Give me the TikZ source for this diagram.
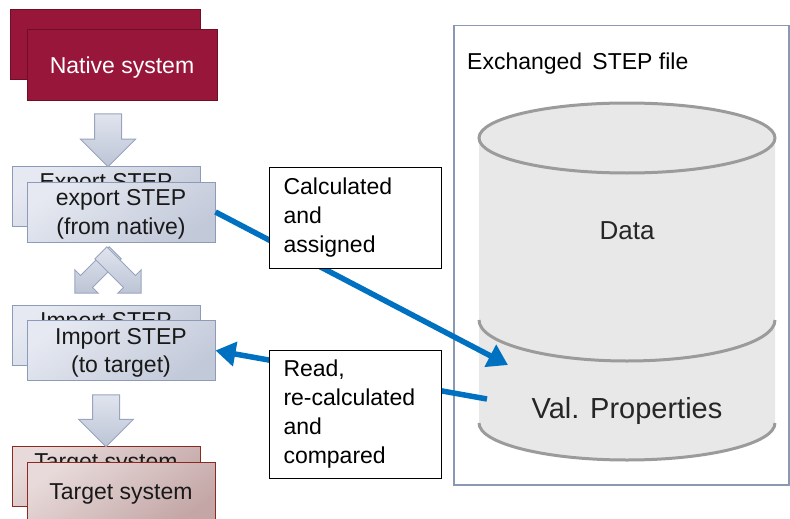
\documentclass[tikz,border=0pt]{standalone}
\usepackage{fontspec}
\setmainfont{Liberation Sans}
\usetikzlibrary{arrows.meta,shapes.arrows}

\definecolor{nativered}{HTML}{98163A}
\definecolor{nativeborder}{HTML}{6E0F26}
\definecolor{stepA}{HTML}{E6E9F1}
\definecolor{stepB}{HTML}{C2C9D9}
\definecolor{stepborder}{HTML}{8C9BB8}
\definecolor{targetA}{HTML}{E8DADA}
\definecolor{targetB}{HTML}{C4A6A6}
\definecolor{targetborder}{HTML}{8B2A20}
\definecolor{arrowA}{HTML}{E0E4EE}
\definecolor{arrowB}{HTML}{BCC4D5}
\definecolor{arrowborder}{HTML}{99A5BE}
\definecolor{panelborder}{HTML}{8A98B4}
\definecolor{cylfill}{HTML}{E8E8E8}
\definecolor{cylline}{HTML}{9B9B9B}
\definecolor{linkblue}{HTML}{0070C0}

\tikzset{%
  every box/.style={
    rectangle,
    draw,
    line width=1pt,
    minimum width=188pt,
    minimum height=60pt,
    align=center,
    text depth=0pt,
    text=black!90,
    font=\fontsize{23}{28.5}\selectfont
  },
  box native/.style={
    fill=nativered,
    draw=nativeborder,
    text=white,
    minimum width=190pt,
    minimum height=70pt
  },
  box step/.style={
    top color=stepA,
    bottom color=stepB,
    shading angle=35,
    draw=stepborder
  },
  box target/.style={
    top color=targetA,
    bottom color=targetB,
    shading angle=35,
    draw=targetborder
  },
  flow arrow/.style={
    single arrow,
    draw=arrowborder,
    line width=1pt,
    top color=arrowA,
    bottom color=arrowB,
    inner xsep=0pt,
    inner ysep=13pt,
    single arrow head extend=14pt,
    single arrow tip angle=90
  },
  cross arrow/.style={
    flow arrow,
    inner ysep=8pt,
    single arrow head extend=8pt,
    minimum height=57pt
  },
  note/.style={
    draw=black,
    fill=white,
    line width=1pt,
    anchor=north west,
    align=left,
    text width=144pt,
    inner xsep=14pt,
    font=\fontsize{23}{29}\selectfont
  },
  link/.style={
    draw=linkblue,
    line width=5.5pt,
    -{Triangle[length=20pt,width=24pt]}
  },
  cyl line/.style={draw=cylline, line width=3pt}
}

\begin{document}
\begin{tikzpicture}[x=1pt, y=-1pt]
    \useasboundingbox (0,0) rectangle (790,519);

    % file panel
    \node [draw=panelborder, line width=1.5pt, minimum width=335pt, minimum height=459pt,
      anchor=north west, inner sep=0pt] (panel) at (453,25) {};
    \node [anchor=base west, inner sep=0pt, font=\fontsize{23}{28}\selectfont] (filelabel)
      at (467,70) {Exchanged\, STEP file};

    % cylinder
    \fill [cylfill] (479,138) -- (479,423) arc [start angle=180, end angle=360,
      x radius=148pt, y radius=37pt] -- (775,138) -- cycle;
    \draw [cyl line, fill=cylfill] (627,138) ellipse [x radius=148pt, y radius=35pt];
    \draw [cyl line] (479,320) arc [start angle=180, end angle=360, x radius=148pt, y radius=41pt];
    \draw [cyl line] (479,423) arc [start angle=180, end angle=360, x radius=148pt, y radius=37pt];
    \node [anchor=base, font=\fontsize{26}{30}\selectfont, text=black!85] (data) at (627,239) {Data};
    \node [anchor=base, font=\fontsize{29}{33}\selectfont, text=black!85] (valprops) at (627,418) {Val. Properties};
    \coordinate (valin) at (508,365);
    \coordinate (valout) at (487,399);

    % system boxes, back and front
    \node [every box, box native, text=nativered] (nativeback) at (105.5,45) {};
    \node [every box, box native] (native) at (122,65) {Native system};
    \node [every box, box step] (exportback) at (106,196) {Export STEP\\\phantom{(from native)}};
    \node [every box, box step] (export) at (121,212) {export STEP\\(from native)};
    \node [every box, box step] (importback) at (106,335) {Import STEP\\\phantom{(to target)}};
    \node [every box, box step] (import) at (121,350.5) {Import STEP\\(to target)};
    \node [every box, box target] (targetback) at (106,476) {Target system\\\phantom{x}};
    \node [every box, box target] (target) at (121,492) {Target system};

    % flow arrows
    \node [flow arrow, minimum height=53pt, rotate=-90] (down1) at (108,133.5) {};
    \node [cross arrow, rotate=-135] (cross1) at (98,270) {};
    \node [cross arrow, rotate=-45] (cross2) at (118,270) {};
    \node [flow arrow, minimum height=52pt, rotate=-90] (down2) at (106,414) {};

    % links to the file
    \draw [link] (export.east) -- (valin);
    \draw [link] (valout) -- (import.east);

    % notes
    \node [note, minimum height=101pt] (assigned) at (269,167)
      {Calculated\\and\\assigned};
    \node [note, minimum height=128pt] (compared) at (269,350)
      {Read,\\re-calculated\\and\\compared};
\end{tikzpicture}
\end{document}
